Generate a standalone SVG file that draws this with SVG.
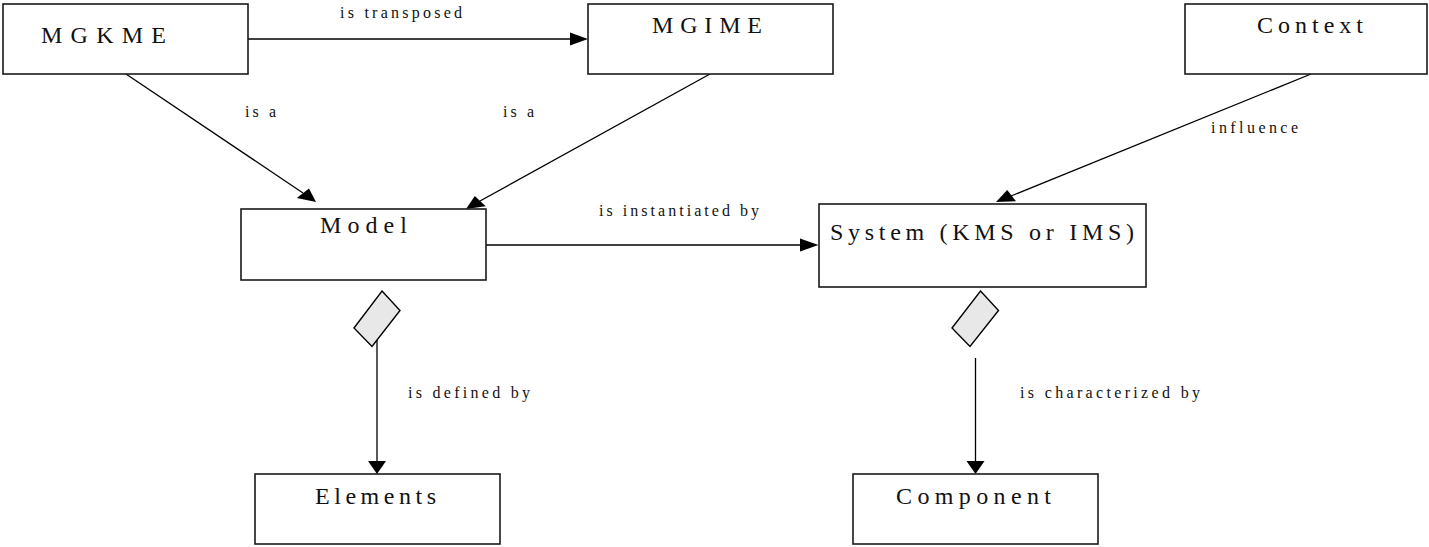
<svg xmlns="http://www.w3.org/2000/svg" width="1429" height="547" viewBox="0 0 1429 547">
<style>
.box{fill:#fff;stroke:#1a1a1a;stroke-width:1.6}
.big{font-family:"Liberation Serif","Times New Roman",serif;font-size:24px;fill:#111}
.lbl{font-family:"Liberation Serif","Times New Roman",serif;font-size:16px;fill:#111}
.ln{stroke:#000;stroke-width:1.3;fill:none}
.ah{fill:#000;stroke:none}
.dia{fill:#e8e8e8;stroke:#000;stroke-width:1.4}
</style>
<rect width="1429" height="547" fill="#fff"/>
<g id="connectors">
  <line class="ln" x1="248" y1="39" x2="571" y2="39"/>
  <polygon class="ah" points="588,39 570,32.5 570,45.5"/>
  <line class="ln" x1="126" y1="74" x2="303" y2="193"/>
  <polygon class="ah" points="316,202 296.8,197.9 309,188.4"/>
  <line class="ln" x1="710" y1="74" x2="480" y2="201"/>
  <polygon class="ah" points="466,209 474.8,195.9 485.7,206.3"/>
  <line class="ln" x1="1311" y1="74" x2="1011" y2="196"/>
  <polygon class="ah" points="996,202 1007.2,190 1016,201.3"/>
  <line class="ln" x1="486" y1="245" x2="801" y2="245"/>
  <polygon class="ah" points="818.5,245 800,238.5 800,251.5"/>
  <line class="ln" x1="377" y1="340" x2="377" y2="462"/>
  <polygon class="dia" points="382,291 400,310.5 372,346.5 354,328"/>
  <polygon class="ah" points="377,474 368,461 386,461"/>
  <line class="ln" x1="975.5" y1="358" x2="975.5" y2="462"/>
  <polygon class="dia" points="980.5,291 998.5,310.5 970,346.5 952,328"/>
  <polygon class="ah" points="975.5,474 966.5,461 984.5,461"/>
  <text class="lbl" x="340" y="18" textLength="122" lengthAdjust="spacing">is transposed</text>
  <text class="lbl" x="245" y="117" textLength="31" lengthAdjust="spacing">is a</text>
  <text class="lbl" x="503" y="117" textLength="31" lengthAdjust="spacing">is a</text>
  <text class="lbl" x="599" y="216" textLength="160" lengthAdjust="spacing">is instantiated by</text>
  <text class="lbl" x="1211" y="132.5" textLength="87" lengthAdjust="spacing">influence</text>
  <text class="lbl" x="408" y="398" textLength="122" lengthAdjust="spacing">is defined by</text>
  <text class="lbl" x="1020" y="398" textLength="180" lengthAdjust="spacing">is characterized by</text>
</g>
<g id="node-mgkme">
  <rect class="box" x="3" y="4" width="245" height="70"/>
  <text class="big" x="41" y="43" textLength="125" lengthAdjust="spacing">MGKME</text>
</g>
<g id="node-mgime">
  <rect class="box" x="588" y="4" width="245" height="70"/>
  <text class="big" x="652" y="33" textLength="110" lengthAdjust="spacing">MGIME</text>
</g>
<g id="node-context">
  <rect class="box" x="1185" y="4" width="242" height="70"/>
  <text class="big" x="1257" y="33" textLength="106" lengthAdjust="spacing">Context</text>
</g>
<g id="node-model">
  <rect class="box" x="241" y="209" width="245" height="71"/>
  <text class="big" x="320" y="233" textLength="87" lengthAdjust="spacing">Model</text>
</g>
<g id="node-system">
  <rect class="box" x="819" y="204" width="327" height="83"/>
  <text class="big" x="830" y="240" textLength="304" lengthAdjust="spacing">System (KMS or IMS)</text>
</g>
<g id="node-elements">
  <rect class="box" x="255" y="474" width="245" height="70"/>
  <text class="big" x="315" y="504" textLength="121" lengthAdjust="spacing">Elements</text>
</g>
<g id="node-component">
  <rect class="box" x="853" y="474" width="245" height="70"/>
  <text class="big" x="896" y="504" textLength="155" lengthAdjust="spacing">Component</text>
</g>
</svg>
